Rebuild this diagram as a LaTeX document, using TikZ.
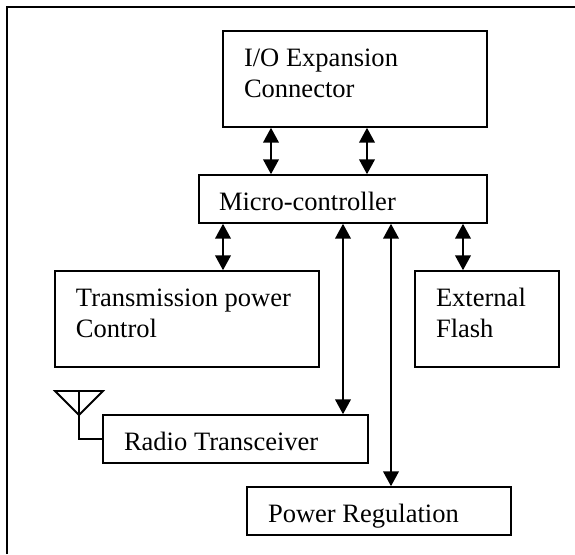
\documentclass[tikz,border=0pt]{standalone}
\usepackage{fontspec}
\setmainfont{Liberation Serif}
\usetikzlibrary{arrows.meta}
\newlength{\pxu}
\setlength{\pxu}{0.75pt}
% width, height, first baseline from top, left pad, lines
\newcommand{\boxtext}[5]{\parbox[c][#2\pxu][t]{#1\pxu}{\leftskip=#4\pxu\parindent=0pt\parskip=0pt\rightskip=0pt plus 1fil\baselineskip=31\pxu\rule{0pt}{#3\pxu}#5}}
\tikzset{
  blockbox/.style={draw=black,line width=1.5pt,inner sep=0pt,outer sep=0pt,anchor=north west,font=\fontsize{19.9pt}{23pt}\selectfont},
  biarrow/.style={line width=1.35pt,{Triangle[width=11.8pt,length=11.2pt]}-{Triangle[width=11.8pt,length=11.2pt]},shorten <=0.6pt,shorten >=0.6pt},
  thinline/.style={draw=black,line width=1.35pt},
  frameline/.style={draw=black,line width=1.8pt}
}
\begin{document}
\begin{tikzpicture}[x=0.75pt,y=-0.75pt]
\useasboundingbox (0,0) rectangle (575,554);
\coordinate (fbl) at (7,554);
\coordinate (ftl) at (7,7);
\coordinate (ftr) at (575,7);
\draw[frameline] (fbl) -- (ftl) -- (ftr);
\node[blockbox] (io) at (223,31) {\boxtext{264}{96}{35.5}{21}{I/O Expansion\\Connector}};
\node[blockbox] (mc) at (199,175) {\boxtext{288}{48}{35.5}{20}{Micro-controller}};
\node[blockbox] (tp) at (55,271) {\boxtext{264}{96}{35.5}{21}{Transmission power\\Control}};
\node[blockbox] (ef) at (415,271) {\boxtext{144}{96}{35.5}{21}{External\\Flash}};
\node[blockbox] (rt) at (103,415) {\boxtext{265}{48}{35.5}{21}{Radio Transceiver}};
\node[blockbox] (pr) at (247,487) {\boxtext{264}{48}{35.5}{21}{Power Regulation}};
\coordinate (a1) at (271,0);
\coordinate (a2) at (367,0);
\coordinate (a3) at (223,0);
\coordinate (a4) at (343,0);
\coordinate (a5) at (391,0);
\coordinate (a6) at (463,0);
\draw[biarrow] (io.south -| a1) -- (mc.north -| a1);
\draw[biarrow] (io.south -| a2) -- (mc.north -| a2);
\draw[biarrow] (mc.south -| a3) -- (tp.north -| a3);
\draw[biarrow] (mc.south -| a4) -- (rt.north -| a4);
\draw[biarrow] (mc.south -| a5) -- (pr.north -| a5);
\draw[biarrow] (mc.south -| a6) -- (ef.north -| a6);
\coordinate (al) at (55,391);
\coordinate (ar) at (103,391);
\coordinate (at) at (79,391);
\coordinate (ab) at (79,415);
\draw[thinline,line join=miter] (al) -- (ar) -- (ab) -- cycle;
\draw[thinline] (at) -- (rt.west -| at) -- (rt.west);
\end{tikzpicture}
\end{document}
